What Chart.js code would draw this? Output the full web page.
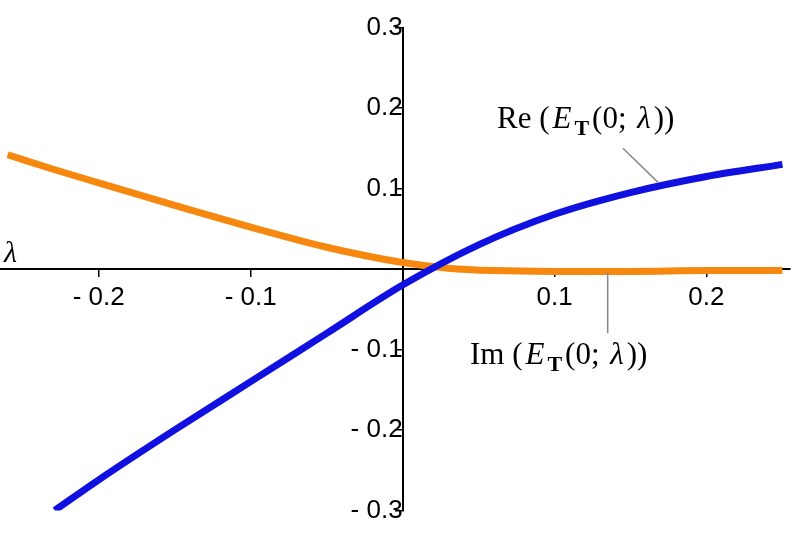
<!DOCTYPE html>
<html>
<head>
<meta charset="utf-8">
<script src="https://cdn.jsdelivr.net/npm/chart.js@4"></script>
<style>
  html, body { margin: 0; padding: 0; background: #fff; }
  #wrap { width: 806px; height: 538px; }
</style>
</head>
<body>
<div id="wrap"><canvas id="chart" width="806" height="538"></canvas></div>
<script>
// lambda values and the two curves
const reLambda = [-0.229, -0.2, -0.15, -0.1, -0.05, 0, 0.05, 0.1, 0.15, 0.2, 0.25];
const reValues = [-0.3, -0.262, -0.2, -0.14, -0.08, -0.02, 0.03, 0.068, 0.095, 0.115, 0.13];
const imLambda = [-0.26, -0.23, -0.2, -0.15, -0.1, -0.05, 0, 0.03, 0.06, 0.1, 0.15, 0.2, 0.25];
const imValues = [0.142, 0.124, 0.107, 0.079, 0.052, 0.027, 0.008, 0.001, -0.002, -0.003, -0.003, -0.002, -0.002];
const xTicks = [-0.2, -0.1, 0.1, 0.2];
const yTicks = [-0.3, -0.2, -0.1, 0.1, 0.2, 0.3];

const fmt = v => (v < 0 ? '- ' + Math.abs(v).toFixed(1) : v.toFixed(1));

// draws one "Xx(E_T(0;λ))" label, left aligned at x, baseline y
function drawLabel(ctx, prefix, x, y) {
  const parts = [
    [prefix + ' (', '31px "Liberation Serif"', 0],
    ['E', 'italic 31px "Liberation Serif"', 0],
    ['T', 'bold 22px "Liberation Serif"', 7],
    ['(0; ', '31px "Liberation Serif"', 0],
    ['λ', 'italic 31px "Liberation Serif"', 0],
    ['))', '31px "Liberation Serif"', 0]
  ];
  let cx = x;
  parts.forEach(([t, f, dy]) => {
    ctx.font = f;
    ctx.fillText(t, cx, y + dy);
    cx += ctx.measureText(t).width + 3;
  });
}

const annotations = {
  id: 'annotations',
  afterDraw(chart) {
    const { ctx, scales: { x, y } } = chart;
    ctx.save();
    ctx.fillStyle = '#000';
    ctx.textBaseline = 'alphabetic';
    drawLabel(ctx, 'Re', 497, 128);
    drawLabel(ctx, 'Im', 470, 364);
    ctx.font = 'italic 30px "Liberation Serif"';
    ctx.fillText('λ', 4, 262);
    ctx.strokeStyle = '#888';
    ctx.lineWidth = 1.5;
    ctx.beginPath();
    ctx.moveTo(x.getPixelForValue(0.145), y.getPixelForValue(0.15));
    ctx.lineTo(x.getPixelForValue(0.168), y.getPixelForValue(0.108));
    ctx.moveTo(x.getPixelForValue(0.135), y.getPixelForValue(-0.004));
    ctx.lineTo(x.getPixelForValue(0.135), y.getPixelForValue(-0.08));
    ctx.stroke();
    ctx.restore();
  }
};

const axisCommon = {
  border: { display: true, color: '#000', width: 2 },
  grid: { drawOnChartArea: false, drawTicks: true, tickLength: 7, color: '#000', lineWidth: 1.5 },
  ticks: { color: '#000', padding: 6, font: { family: 'Liberation Sans', size: 26 }, autoSkip: false, callback: v => fmt(v) }
};

new Chart(document.getElementById('chart'), {
  type: 'line',
  data: {
    datasets: [
      {
        label: 'Re',
        data: reLambda.map((l, i) => ({ x: l, y: reValues[i] })),
        borderColor: '#1010e0',
        borderWidth: 7,
        pointRadius: 0,
        cubicInterpolationMode: 'monotone'
      },
      {
        label: 'Im',
        data: imLambda.map((l, i) => ({ x: l, y: imValues[i] })),
        borderColor: '#f7880f',
        borderWidth: 7,
        pointRadius: 0,
        cubicInterpolationMode: 'monotone'
      }
    ]
  },
  options: {
    responsive: false,
    animation: false,
    layout: { padding: { top: 20, bottom: 20, left: 0, right: 16 } },
    plugins: { legend: { display: false }, tooltip: { enabled: false } },
    scales: {
      x: {
        ...axisCommon,
        type: 'linear',
        position: { y: 0 },
        min: -0.265, max: 0.255,
        afterBuildTicks: s => { s.ticks = xTicks.map(v => ({ value: v })); }
      },
      y: {
        ...axisCommon,
        type: 'linear',
        position: { x: 0 },
        min: -0.3, max: 0.3,
        ticks: { ...axisCommon.ticks, padding: 12 },
        afterBuildTicks: s => { s.ticks = yTicks.map(v => ({ value: v })); }
      }
    }
  },
  plugins: [annotations]
});
</script>
</body>
</html>
